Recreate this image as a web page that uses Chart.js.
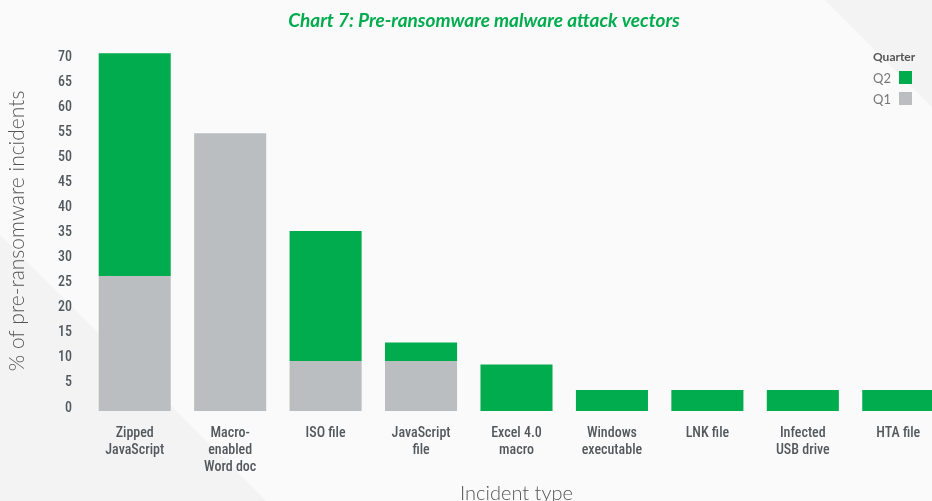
<!DOCTYPE html>
<html>
<head>
<meta charset="utf-8">
<script src="https://cdn.jsdelivr.net/npm/chart.js@4/dist/chart.umd.min.js"></script>
<style>
  html, body { margin: 0; padding: 0; width: 932px; height: 501px; overflow: hidden; }
  body {
    background: linear-gradient(45deg, #f3f3f3 18.6%, #fafafa 18.6%, #fafafa 92.5%, #f3f3f3 92.5%);
  }
  #wrap { position: relative; width: 960px; height: 512px; }
  #legend { position: absolute; left: 873px; top: 49px; font-family: Lato, "Open Sans", sans-serif; }
  #legend .ttl { font-weight: 700; font-size: 12px; color: #555; margin-bottom: 3px; }
  #legend .row { display: flex; align-items: center; font-size: 13px; color: #777; height: 21px; }
  #legend .sw { width: 13px; height: 13px; margin-left: 8px; }
</style>
</head>
<body>
<div id="wrap">
  <canvas id="grafico" width="960" height="512"></canvas>
  <div id="legend"></div>
</div>
<script>
const d = document;

// tipos de incidente (eje x)
const categorias = [
    'Zipped\nJavaScript',
    'Macro-\nenabled\nWord doc',
    'ISO file',
    'JavaScript\nfile',
    'Excel 4.0\nmacro',
    'Windows\nexecutable',
    'LNK file',
    'Infected\nUSB drive',
    'HTA file',
];

// % de incidentes por trimestre
const q1 = [27, 55.5, 10, 10, 0, 0, 0, 0, 0];
const q2 = [44.5, 0, 26, 3.7, 9.3, 4.2, 4.2, 4.2, 4.2];

const verde = '#00ac4e',
      gris = '#bbbec0';

// fuente estrecha para las etiquetas de los ejes
const fuenteEje = "'Roboto Condensed', Roboto, sans-serif";

const chart = new Chart(d.getElementById('grafico'), {
    type: 'bar',
    data: {
        labels: categorias.map(c => c.split('\n')),
        datasets: [
            { label: 'Q1', data: q1, backgroundColor: gris },
            { label: 'Q2', data: q2, backgroundColor: verde },
        ]
    },
    options: {
        responsive: false,
        animation: false,
        layout: { padding: { left: 22, right: 14, top: 0, bottom: 0 } },
        datasets: { bar: { barPercentage: 0.755, categoryPercentage: 1 } },
        plugins: {
            legend: { display: false },
            tooltip: { enabled: false },
            title: {
                display: true,
                text: 'Chart 7: Pre-ransomware malware attack vectors',
                color: verde,
                font: { family: 'Lato', size: 19, weight: 'bold', style: 'italic' },
                padding: { top: 9, bottom: 19 },
            },
        },
        scales: {
            x: {
                stacked: true,
                grid: { display: false, drawTicks: false },
                border: { display: false },
                ticks: {
                    color: '#54585c',
                    font: { family: fuenteEje, size: 14, weight: 500, lineHeight: 1.22 },
                    padding: 14,
                    maxRotation: 0,
                    autoSkip: false,
                },
                title: {
                    display: true,
                    text: 'Incident type',
                    color: '#555',
                    font: { family: 'Lato', size: 20, weight: 300 },
                    padding: { top: 0, bottom: 6 },
                },
                afterFit(scale) { scale.height = 512 - 411; },
            },
            y: {
                stacked: true,
                min: 0,
                max: 72,
                grid: { display: false, drawTicks: false },
                border: { display: false },
                ticks: {
                    stepSize: 5,
                    includeBounds: false,
                    labelOffset: -3,
                    padding: 15,
                    color: '#54585c',
                    font: { family: fuenteEje, size: 14, weight: 500 },
                },
                title: {
                    display: true,
                    text: '% of pre-ransomware incidents',
                    color: '#555',
                    font: { family: 'Lato', size: 21, weight: 300 },
                    padding: { top: -17, bottom: 0 },
                },
                afterFit(scale) { scale.width = 65; },
            }
        }
    }
});

// leyenda "Quarter", Q2 arriba
const $leg = d.getElementById('legend');
$leg.innerHTML = '<div class="ttl">Quarter</div>' +
    chart.data.datasets.slice().reverse().map(ds =>
        `<div class="row"><span>${ds.label}</span><span class="sw" style="background:${ds.backgroundColor}"></span></div>`
    ).join('');
</script>
</body>
</html>
